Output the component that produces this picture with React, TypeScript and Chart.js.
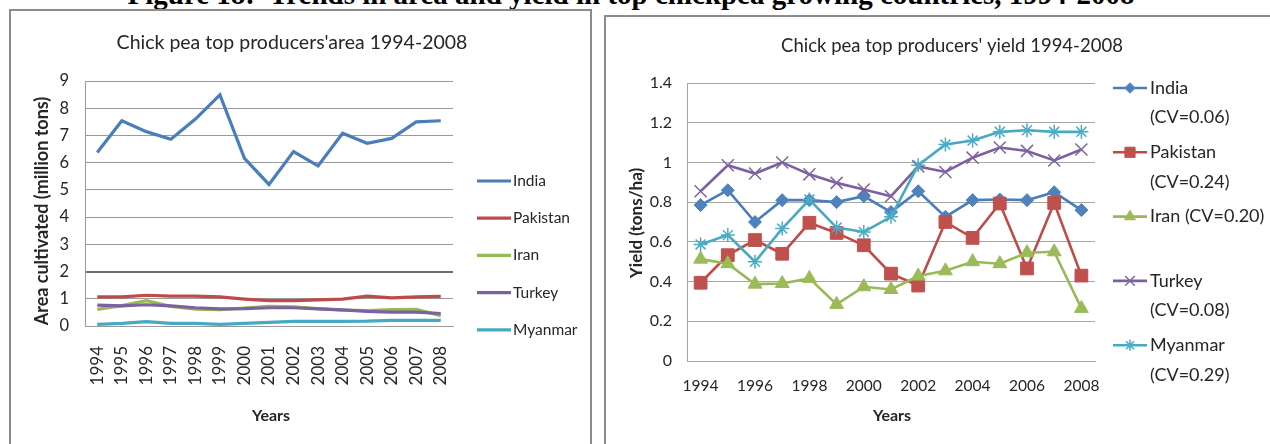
import React, { useEffect, useRef } from 'react';
import { Chart, registerables } from 'chart.js';
import { drawPoint } from 'chart.js/helpers';

Chart.register(...registerables);

// ---------------- data ----------------
const years = ['1994', '1995', '1996', '1997', '1998', '1999', '2000', '2001', '2002', '2003', '2004', '2005', '2006', '2007', '2008'];
const countries = ['India', 'Pakistan', 'Iran', 'Turkey', 'Myanmar'];

// Area cultivated (million tons)
const areaIndia = [6.37, 7.54, 7.14, 6.86, 7.6, 8.49, 6.16, 5.2, 6.41, 5.88, 7.08, 6.71, 6.89, 7.5, 7.54];
const areaPakistan = [1.07, 1.07, 1.13, 1.1, 1.1, 1.07, 0.99, 0.93, 0.93, 0.96, 0.99, 1.1, 1.03, 1.07, 1.09];
const areaIran = [0.61, 0.75, 0.93, 0.72, 0.62, 0.6, 0.66, 0.72, 0.7, 0.64, 0.58, 0.57, 0.6, 0.61, 0.38];
const areaTurkey = [0.77, 0.74, 0.78, 0.74, 0.67, 0.63, 0.64, 0.67, 0.67, 0.63, 0.59, 0.54, 0.51, 0.51, 0.46];
const areaMyanmar = [0.06, 0.1, 0.16, 0.1, 0.1, 0.06, 0.1, 0.13, 0.17, 0.17, 0.17, 0.18, 0.21, 0.21, 0.21];

// Yield (tons/ha)
const yieldIndia = [0.785, 0.86, 0.7, 0.81, 0.81, 0.8, 0.83, 0.75, 0.855, 0.726, 0.81, 0.813, 0.81, 0.85, 0.76];
const yieldPakistan = [0.394, 0.533, 0.609, 0.54, 0.696, 0.645, 0.583, 0.44, 0.38, 0.7, 0.62, 0.793, 0.466, 0.796, 0.43];
const yieldIran = [0.513, 0.49, 0.387, 0.39, 0.416, 0.285, 0.374, 0.36, 0.428, 0.454, 0.5, 0.49, 0.545, 0.55, 0.265];
const yieldTurkey = [0.855, 0.986, 0.944, 1.0, 0.94, 0.897, 0.864, 0.83, 0.98, 0.952, 1.024, 1.075, 1.058, 1.01, 1.065];
const yieldMyanmar = [0.587, 0.634, 0.5, 0.667, 0.813, 0.672, 0.65, 0.726, 0.986, 1.09, 1.11, 1.154, 1.162, 1.154, 1.154];
const yieldCV = [0.06, 0.24, 0.2, 0.08, 0.29];

const areaSeries = [areaIndia, areaPakistan, areaIran, areaTurkey, areaMyanmar];
const yieldSeries = [yieldIndia, yieldPakistan, yieldIran, yieldTurkey, yieldMyanmar];

// ---------------- texts ----------------
const figureTitle = 'Figure 18:  Trends in area and yield in top chickpea growing countries, 1994-2008';
const leftTitle = "Chick pea top producers'area 1994-2008";
const rightTitle = "Chick pea top producers' yield 1994-2008";
const leftYTitle = 'Area cultivated (million tons)';
const rightYTitle = 'Yield (tons/ha)';
const xTitle = 'Years';

// ---------------- styles ----------------
const lineColors = ['#4a7ebb', '#be4b48', '#98b954', '#7d60a0', '#46aac5'];
const markerColors = ['#4f81bd', '#c0504d', '#9bbb59', '#8064a2', '#4bacc6'];
const pointStyles = ['rectRot', 'rect', 'triangle', 'crossRot', 'star'];
const pointRadii = [6.5, 9, 8, 8.5, 7];
const FONT = 'Lato, "Open Sans", sans-serif';
const TEXT = '#262626';

type Txt = { text: string; x: number; y: number; font: string; rotate?: boolean };
type LegendSpec = {
  x0: number; x1: number; tx: number; y0: number; step: number; lineStep: number;
  font: string; lineWidth: number; markers: boolean; labels: string[][]; markerScale: number;
};

function decorPlugin(texts: Txt[], legend: LegendSpec) {
  return {
    id: 'decor',
    afterDraw(chart: any) {
      const ctx: CanvasRenderingContext2D = chart.ctx;
      ctx.save();
      ctx.fillStyle = TEXT;
      ctx.textBaseline = 'middle';
      ctx.textAlign = 'center';
      for (const t of texts) {
        ctx.font = t.font;
        if (t.rotate) {
          ctx.save();
          ctx.translate(t.x, t.y);
          ctx.rotate(-Math.PI / 2);
          ctx.fillText(t.text, 0, 0);
          ctx.restore();
        } else {
          ctx.fillText(t.text, t.x, t.y);
        }
      }
      // legend
      chart.data.datasets.forEach((ds: any, i: number) => {
        const y = legend.y0 + i * legend.step;
        ctx.strokeStyle = ds.borderColor;
        ctx.lineWidth = legend.lineWidth;
        ctx.beginPath();
        ctx.moveTo(legend.x0, y);
        ctx.lineTo(legend.x1, y);
        ctx.stroke();
        if (legend.markers) {
          ctx.fillStyle = ds.pointBackgroundColor;
          ctx.strokeStyle = ds.pointBorderColor;
          ctx.lineWidth = ds.pointBorderWidth;
          drawPoint(ctx, {
            pointStyle: ds.pointStyle,
            radius: ds.pointRadius * legend.markerScale,
            rotation: 0,
            borderWidth: ds.pointBorderWidth,
          } as any, (legend.x0 + legend.x1) / 2, y);
        }
        ctx.fillStyle = TEXT;
        ctx.textAlign = 'left';
        ctx.font = legend.font;
        legend.labels[i].forEach((line, j) => {
          ctx.fillText(line, legend.tx, y + j * legend.lineStep);
        });
      });
      ctx.restore();
    },
  };
}

function areaConfig(): any {
  return {
    type: 'line',
    data: {
      labels: years,
      datasets: countries.map((name, i) => ({
        label: name,
        data: areaSeries[i],
        borderColor: lineColors[i],
        backgroundColor: lineColors[i],
        borderWidth: 3.2,
        pointRadius: 0,
        tension: 0,
        order: 4 - i,
      })),
    },
    options: {
      responsive: false,
      animation: false,
      events: [],
      layout: { padding: { left: 0, top: 81, right: 147, bottom: 58 } },
      plugins: { legend: { display: false }, title: { display: false }, tooltip: { enabled: false } },
      scales: {
        x: {
          offset: true,
          grid: { display: false, drawTicks: false },
          border: { display: true, color: '#9a9a9a', width: 1 },
          ticks: {
            minRotation: 90, maxRotation: 90, autoSkip: false, padding: 20,
            color: TEXT, font: { family: FONT, size: 17 },
          },
          afterFit: (s: any) => { s.height = 60; },
        },
        y: {
          min: 0, max: 9,
          grid: {
            drawTicks: false,
            color: (c: any) => (c.tick && c.tick.value === 2 ? '#6f6f6f' : '#9a9a9a'),
            lineWidth: (c: any) => (c.tick && c.tick.value === 2 ? 2 : 1),
          },
          border: { display: true, color: '#9a9a9a', width: 1 },
          ticks: { stepSize: 1, padding: 16, color: TEXT, font: { family: FONT, size: 16.5 } },
          afterFit: (s: any) => { s.width = 85; },
        },
      },
    },
    plugins: [
      decorPlugin(
        [
          { text: leftTitle, x: 292, y: 43, font: `19.5px ${FONT}` },
          { text: leftYTitle, x: 42, y: 211, font: `bold 18px ${FONT}`, rotate: true },
          { text: xTitle, x: 271, y: 416, font: `bold 16px ${FONT}` },
        ],
        {
          x0: 477, x1: 511, tx: 513, y0: 181, step: 37.2, lineStep: 0,
          font: `15.5px ${FONT}`, lineWidth: 3.2, markers: false, markerScale: 1,
          labels: countries.map((c) => [c]),
        },
      ),
    ],
  };
}

function yieldConfig(): any {
  const legendLabels = countries.map((c, i) => {
    const cv = `(CV=${yieldCV[i].toFixed(2)})`;
    return i === 2 ? [`${c} ${cv}`] : [c, cv];
  });
  return {
    type: 'line',
    data: {
      labels: years,
      datasets: countries.map((name, i) => ({
        label: name,
        data: yieldSeries[i],
        borderColor: lineColors[i],
        backgroundColor: markerColors[i],
        borderWidth: 2.6,
        pointStyle: pointStyles[i],
        pointRadius: pointRadii[i],
        pointBackgroundColor: markerColors[i],
        pointBorderColor: markerColors[i],
        pointBorderWidth: i >= 3 ? 1.5 : 1,
        tension: 0,
        order: 4 - i,
      })),
    },
    options: {
      responsive: false,
      animation: false,
      events: [],
      layout: { padding: { left: 0, top: 83, right: 175, bottom: 33 } },
      plugins: { legend: { display: false }, title: { display: false }, tooltip: { enabled: false } },
      scales: {
        x: {
          offset: true,
          grid: { display: false, drawTicks: false },
          border: { display: true, color: '#a6a6a6', width: 1 },
          ticks: {
            autoSkip: false, maxRotation: 0, minRotation: 0, padding: 16,
            color: TEXT, font: { family: FONT, size: 15.5 },
            callback: (_v: any, i: number) => (i % 2 === 0 ? years[i] : ''),
          },
          afterFit: (s: any) => { s.height = 50; },
        },
        y: {
          min: 0, max: 1.4,
          grid: { drawTicks: false, color: '#a6a6a6', lineWidth: 1 },
          border: { display: true, color: '#a6a6a6', width: 1 },
          ticks: {
            stepSize: 0.2, padding: 15, color: TEXT, font: { family: FONT, size: 16 },
            callback: (v: any) => String(Number(Number(v).toFixed(1))),
          },
          afterFit: (s: any) => { s.width = 87; },
        },
      },
    },
    plugins: [
      decorPlugin(
        [
          { text: rightTitle, x: 352, y: 46, font: `18.5px ${FONT}` },
          { text: rightYTitle, x: 37, y: 223, font: `bold 17px ${FONT}`, rotate: true },
          { text: xTitle, x: 292, y: 416, font: `bold 16px ${FONT}` },
        ],
        {
          x0: 513, x1: 547, tx: 550, y0: 88, step: 64.3, lineStep: 29.5,
          font: `18px ${FONT}`, lineWidth: 2.6, markers: true, markerScale: 0.8,
          labels: legendLabels,
        },
      ),
    ],
  };
}

function ChartCanvas({ make, left, width }: { make: () => any; left: number; width: number }) {
  const ref = useRef<HTMLCanvasElement>(null);
  useEffect(() => {
    const chart = new Chart(ref.current as HTMLCanvasElement, make());
    return () => chart.destroy();
  }, [make]);
  return (
    <canvas
      ref={ref}
      width={width}
      height={444}
      style={{ position: 'absolute', left, top: 0, width, height: 444 }}
    />
  );
}

export default function App() {
  return (
    <div
      style={{
        position: 'absolute', left: 0, top: 0, width: 1270, height: 444,
        overflow: 'hidden', background: '#fff',
      }}
    >
      <div
        style={{
          position: 'absolute', left: 0, top: -19.8, width: 1262, textAlign: 'center',
          font: 'bold 29px "Liberation Serif", "Times New Roman", serif', lineHeight: '29px',
          whiteSpace: 'pre', color: '#000',
        }}
      >
        {figureTitle}
      </div>
      <div
        style={{
          position: 'absolute', left: 9, top: 9, width: 583, height: 520,
          border: '2px solid #8c8c8c', boxSizing: 'border-box',
        }}
      />
      <div
        style={{
          position: 'absolute', left: 604, top: 15, width: 800, height: 520,
          border: '2px solid #8c8c8c', boxSizing: 'border-box',
        }}
      />
      <ChartCanvas make={areaConfig} left={0} width={600} />
      <ChartCanvas make={yieldConfig} left={600} width={670} />
    </div>
  );
}
